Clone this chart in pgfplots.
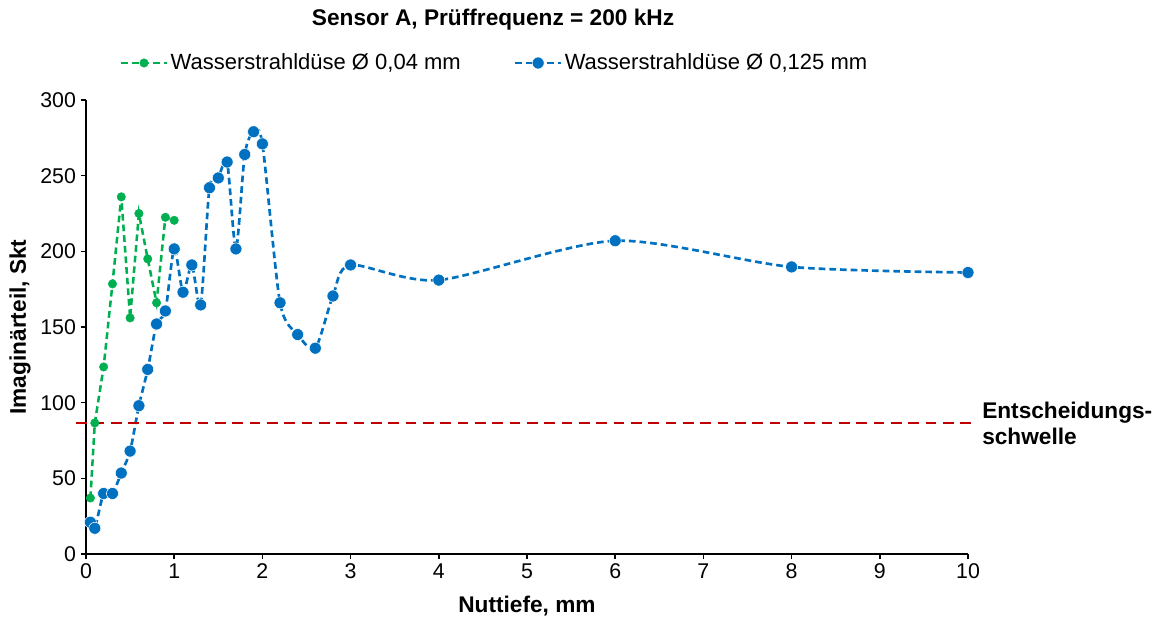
\documentclass[border=0pt]{standalone}
\usepackage{fontspec}
\setmainfont{Liberation Sans}
\usepackage{pgfplots}
\pgfplotsset{compat=1.18}

\definecolor{sgreen}{HTML}{00B050}
\definecolor{sblue}{HTML}{0070C0}
\definecolor{sred}{HTML}{C00000}

\begin{document}
\begin{tikzpicture}
\begin{axis}[
  name=ax,
  scale only axis,
  width=661.5pt, height=340.5pt,
  xmin=0, xmax=10, ymin=0, ymax=300,
  xtick={0,1,...,10}, ytick={0,50,...,300},
  axis x line*=bottom, axis y line*=left,
  axis line style={black, line width=1.1pt},
  tick style={black, line width=1.1pt},
  tick align=outside, major tick length=4pt,
  /pgf/number format/assume math mode=true,
  ticklabel style={font=\fontsize{16}{19}\selectfont},
  xlabel={\textbf{Nuttiefe, mm}},
  ylabel={\textbf{Imaginärteil, Skt}},
  label style={font=\fontsize{17}{20}\selectfont},
  xlabel style={at={(axis description cs:0.5,-0.1145)}, anchor=center},
  ylabel style={at={(axis description cs:-0.0748,0.5)}, anchor=center},
  clip=false,
  legend columns=2,
  legend style={at={(axis description cs:0.4637,1.0815)}, anchor=center,
    draw=none, fill=none, font=\fontsize{16.5}{19}\selectfont,
    /tikz/every even column/.append style={column sep=38pt}},
  legend image code/.code={
    \draw[mark repeat=2,mark phase=2,#1] plot coordinates {(0pt,0pt)(17pt,0pt)(34pt,0pt)};},
]

% Wasserstrahldüse 0,04 mm
\addplot[sgreen, line width=1.9pt, dash pattern=on 5pt off 3pt,
  mark=*, mark size=3.2pt, mark options={solid, fill=sgreen, draw=sgreen, line width=0.3pt}]
coordinates {
  (0.05,37) (0.1,86.6) (0.2,123.6) (0.3,178.5) (0.4,236) (0.5,156)
  (0.6,225) (0.7,195) (0.8,166) (0.9,222.5) (1.0,220.5)
};
\addlegendentry{Wasserstrahldüse Ø 0,04 mm}

% Wasserstrahldüse 0,125 mm
\addplot[sblue, line width=2pt, dash pattern=on 5pt off 3pt, smooth, tension=0.45,
  mark=*, mark size=4.5pt, mark options={solid, fill=sblue, draw=white, line width=0.4pt}]
coordinates {
  (0.05,21) (0.1,17) (0.2,40) (0.3,40) (0.4,53.5) (0.5,68) (0.6,98)
  (0.7,122) (0.8,152) (0.9,160.6) (1.0,201.6) (1.1,173) (1.2,191)
  (1.3,164.6) (1.4,242) (1.5,248.5) (1.6,259) (1.7,201.6) (1.8,264)
  (1.9,279) (2.0,271) (2.2,166) (2.4,145) (2.6,136) (2.8,170.5)
  (3.0,191) (4,181) (6,207) (8,189.7) (10,186)
};
\addlegendentry{Wasserstrahldüse Ø 0,125 mm}

% Entscheidungsschwelle
\addplot[sred, line width=2pt, dash pattern=on 8pt off 5pt, forget plot]
coordinates {(-0.11,86.6) (10.09,86.6)};

\node[anchor=west, inner sep=0pt, align=left, font=\fontsize{17}{19.5}\selectfont\bfseries]
  at ([xshift=10.5pt]axis cs:10,86.6) {Entscheidungs-\\schwelle};

\node[anchor=center, font=\fontsize{17}{20}\selectfont\bfseries]
  at (axis description cs:0.4615,1.176) {Sensor A, Prüffrequenz = 200 kHz};
\end{axis}
\useasboundingbox ([xshift=-64.5pt,yshift=-48pt]ax.south west)
  rectangle ([xshift=803.25pt,yshift=415.5pt]ax.south west);
\end{tikzpicture}
\end{document}
